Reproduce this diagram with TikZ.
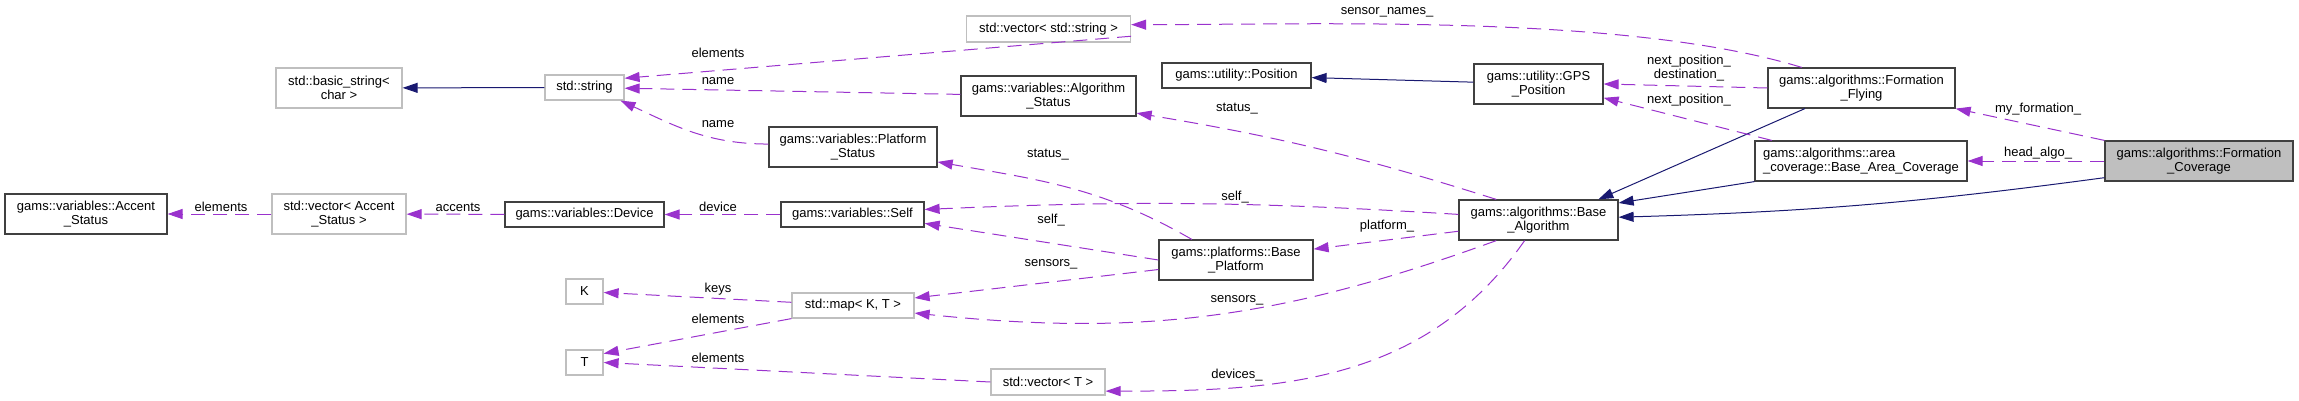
\documentclass[tikz,border=0pt]{standalone}
\usepackage{fontspec}
\setmainfont{Liberation Sans}
\usepackage{tikz}
\usetikzlibrary{arrows.meta}
\definecolor{usepurple}{HTML}{9A32CD}
\definecolor{inhblue}{HTML}{191970}
\definecolor{extgray}{HTML}{BFBFBF}

\begin{document}
\begin{tikzpicture}[x=1pt, y=-1pt,
    font=\fontsize{13}{14}\selectfont,
    box/.style={draw=black!75, line width=1.2pt, inner sep=0pt, align=center, minimum height=25pt},
    extbox/.style={box, draw=extgray},
    focusbox/.style={box, fill=extgray},
    inherit/.style={draw=inhblue, line width=1pt, -{Triangle[length=15pt, width=10pt]}},
    usage/.style={draw=usepurple, line width=1pt, dash pattern=on 14pt off 8pt, -{Triangle[length=15pt, width=10pt]}},
    lbl/.style={inner sep=0pt}]
  \useasboundingbox (0,0) rectangle (2299,401);

  % クラス
  \node[box, minimum width=162pt, minimum height=40pt] (accentStatus) at (86,214) {gams::variables::Accent\\\_Status};
  \node[extbox, minimum width=134pt, minimum height=40pt] (vecAccent) at (339,214) {std::vector< Accent\\\_Status >};
  \node[extbox, minimum width=126pt, minimum height=40pt] (basicString) at (339,88) {std::basic\_string<\\char >};
  \node[extbox, minimum width=79pt] (stdString) at (584.5,87.5) {std::string};
  \node[box, minimum width=159pt] (device) at (584.5,214.5) {gams::variables::Device};
  \node[extbox, minimum width=37pt] (keyK) at (584.5,291.5) {K};
  \node[extbox, minimum width=37pt] (typeT) at (584.5,362.5) {T};
  \node[box, minimum width=168pt, minimum height=40pt] (platStatus) at (853,147) {gams::variables::Platform\\\_Status};
  \node[box, minimum width=143pt] (self) at (852.5,214.5) {gams::variables::Self};
  \node[extbox, minimum width=122pt] (stdMap) at (853,305.5) {std::map< K, T >};
  \node[extbox, minimum width=164pt, minimum height=26pt] (vecString) at (1048.5,29) {std::vector< std::string >};
  \node[box, minimum width=175pt, minimum height=40pt] (algoStatus) at (1048.5,96) {gams::variables::Algorithm\\\_Status};
  \node[extbox, minimum width=114pt, minimum height=26pt] (vecT) at (1048,382) {std::vector< T >};
  \node[box, minimum width=149pt] (position) at (1236.5,75.5) {gams::utility::Position};
  \node[box, minimum width=154pt, minimum height=40pt] (basePlatform) at (1236,260) {gams::platforms::Base\\\_Platform};
  \node[box, minimum width=129pt, minimum height=40pt] (gpsPosition) at (1538.5,84) {gams::utility::GPS\\\_Position};
  \node[box, minimum width=159pt, minimum height=40pt] (baseAlgo) at (1538.5,220) {gams::algorithms::Base\\\_Algorithm};
  \node[box, minimum width=187pt, minimum height=40pt] (formFlying) at (1861.5,88) {gams::algorithms::Formation\\\_Flying};
  \node[box, minimum width=212pt, minimum height=40pt, align=left] (areaCoverage) at (1861,161) {gams::algorithms::area\\\_coverage::Base\_Area\_Coverage};
  \node[focusbox, minimum width=188pt, minimum height=40pt] (formCoverage) at (2199,161) {gams::algorithms::Formation\\\_Coverage};

  % 継承
  \draw[inherit] (stdString) -- (basicString);
  \draw[inherit] (gpsPosition) -- (position);
  \draw[inherit] (formFlying.200) -- (baseAlgo.19);
  \draw[inherit] (areaCoverage.south west) -- (baseAlgo.12);
  \draw[inherit] (formCoverage.190) to[bend left=3] (baseAlgo.2);

  % 利用関係
  \draw[usage] (vecAccent) -- (accentStatus) node[lbl] (lElemAcc) at (221,207) {elements};
  \draw[usage] (device) -- (vecAccent) node[lbl] (lAccents) at (458,207) {accents};
  \draw[usage] (self) -- (device) node[lbl] (lDevice) at (718,207) {device};
  \draw[usage] (vecString.-5) -- (stdString.13) node[lbl] (lElemStr) at (718,53) {elements};
  \draw[usage] (algoStatus) -- (stdString) node[lbl] (lNameA) at (718,81) {name};
  \draw[usage] (platStatus.178) to[out=180, in=-25] (stdString.-20) node[lbl] (lNameP) at (718,124) {name};
  \draw[usage] (stdMap) -- (keyK) node[lbl] (lKeys) at (718,289) {keys};
  \draw[usage] (stdMap.south west) -- (typeT.25) node[lbl] (lElemMap) at (718,319) {elements};
  \draw[usage] (vecT.west) -- (typeT.east) node[lbl] (lElemVec) at (718,358) {elements};
  \draw[usage] (basePlatform.155) to[out=150, in=-10] (platStatus.-10) node[lbl] (lStatusP) at (1048,155) {status\_};
  \draw[usage] (basePlatform.west) -- (self.-7) node[lbl] (lSelfP) at (1051,220) {self\_};
  \draw[usage] (basePlatform.187) -- (stdMap.7) node[lbl] (lSensorsP) at (1051,264) {sensors\_};
  \draw[usage] (baseAlgo.176) to[bend right=3] (self.4) node[lbl] (lSelfA) at (1235,197) {self\_};
  \draw[usage] (baseAlgo.154) to[bend right=4] (algoStatus.-11) node[lbl] (lStatusA) at (1237,109) {status\_};
  \draw[usage] (baseAlgo.188) -- (basePlatform.8) node[lbl] (lPlatform) at (1387,226) {platform\_};
  \draw[usage] (baseAlgo.206) to[out=200, in=-6] (stdMap.-7) node[lbl] (lSensorsA) at (1237,300) {sensors\_};
  \draw[usage] (baseAlgo.236) to[out=235, in=0] (vecT.-9) node[lbl] (lDevices) at (1237,375) {devices\_};
  \draw[usage] (formFlying.161) to[out=163, in=0, looseness=0.7] (vecString.3) node[lbl] (lSensorNames) at (1387,12) {sensor\_names\_};
  \draw[usage] (formFlying.west) -- (gpsPosition.east) node[lbl, align=center] (lNextDest) at (1689,68) {next\_position\_\\destination\_};
  \draw[usage] (areaCoverage.167) -- (gpsPosition.-12) node[lbl] (lNextPos) at (1689,100) {next\_position\_};
  \draw[usage] (formCoverage.north west) -- (formFlying.south east) node[lbl] (lMyForm) at (2038,109) {my\_formation\_};
  \draw[usage] (formCoverage) -- (areaCoverage) node[lbl] (lHeadAlgo) at (2038,153) {head\_algo\_};
\end{tikzpicture}
\end{document}
